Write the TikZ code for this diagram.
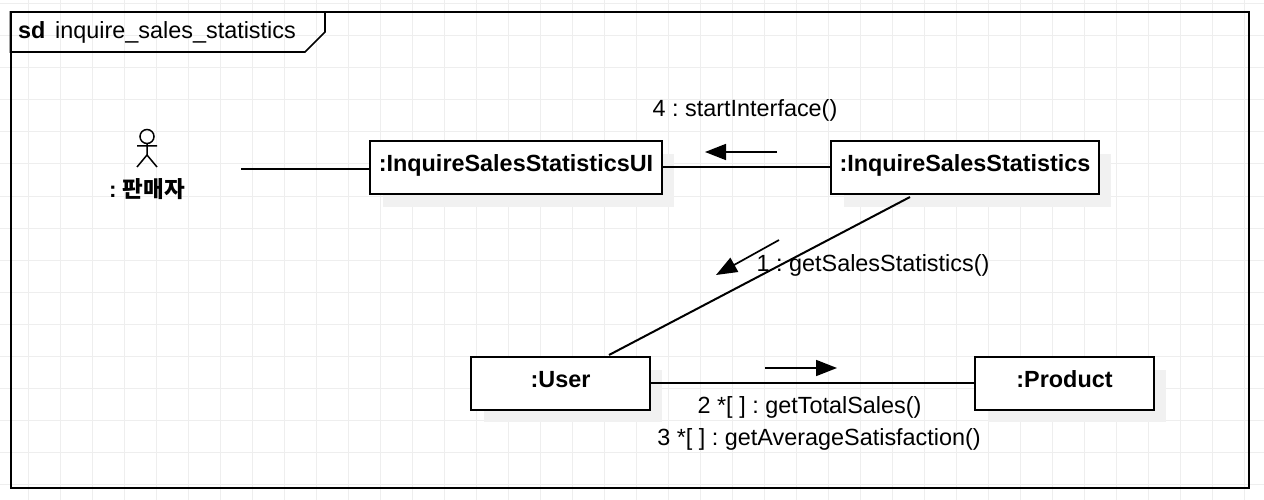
\documentclass[tikz,border=0pt]{standalone}
\usepackage{fontspec}
\setmainfont{Liberation Sans}
\newfontfamily\krfont{Noto Sans CJK KR Bold}
\usetikzlibrary{calc,arrows.meta}
\definecolor{gridc}{HTML}{EEEEEE}
\definecolor{shadowc}{HTML}{F1F1F1}
\tikzset{
  x=1pt,y=-1pt,
  objbox/.style={draw=black,fill=white,line width=2pt,inner sep=0pt},
  boxtext/.style={inner sep=0pt,anchor=base,font=\fontsize{23.4}{26}\selectfont\bfseries},
  msg/.style={font=\fontsize{23.4}{26}\selectfont,inner sep=0pt,anchor=base},
  link/.style={line width=2pt,black},
  flow/.style={line width=1.7pt,-{Triangle[length=21pt,width=16pt]}},
}
\begin{document}
\begin{tikzpicture}
\frenchspacing
\useasboundingbox (0,0) rectangle (1264,500);
\fill[white] (0,0) rectangle (1264,500);
\foreach \xx in {28,60,...,1260} \draw[gridc,line width=1pt] (\xx,0) -- (\xx,500);
\foreach \yy in {4,36,...,500} \draw[gridc,line width=1pt] (0,\yy) -- (1264,\yy);
% frame
\draw[line width=2pt] (10.5,12) rectangle (1249,488);
\path[draw,line width=1.6pt] (10.5,12) -- (325,12) -- (325,32) -- (305,52) -- (10.5,52) -- cycle;
\node[inner sep=0pt,anchor=base west,font=\fontsize{23.4}{26}\selectfont\bfseries] (sdk) at (18,38.7) {sd};
\node[inner sep=0pt,anchor=base west,font=\fontsize{23.4}{26}\selectfont] (sdn) at (55,38.7) {inquire\_sales\_statistics};
% shadows
\fill[shadowc] (383,154) rectangle (674,207);
\fill[shadowc] (844,154) rectangle (1111,207);
\fill[shadowc] (484,370) rectangle (662,422);
\fill[shadowc] (988,370) rectangle (1166,422);
% boxes
\node[objbox,minimum width=292pt,minimum height=53pt] (ui) at (516,167.5) {};
\node[objbox,minimum width=267.5pt,minimum height=53pt] (is) at (964.75,167.5) {};
\node[objbox,minimum width=178.5pt,minimum height=53pt] (user) at (560.25,383.5) {};
\node[objbox,minimum width=178.5pt,minimum height=53pt] (prod) at (1064.25,383.5) {};
\node[boxtext] (uit) at (516,171.7) {:InquireSalesStatisticsUI};
\node[boxtext] (ist) at (965,171.7) {:InquireSalesStatistics};
\node[boxtext] (usert) at (560.5,387) {:User};
\node[boxtext] (prodt) at (1064.5,387) {:Product};
% actor
\node[circle,draw,line width=1.5pt,minimum size=14pt,inner sep=0pt] (head) at (147,136.5) {};
\coordinate (hip) at (147,155);
\draw[line width=1.5pt] (head.south) -- (hip) (137,146) -- (157,146) (hip) -- (137,167) (hip) -- (157,167);
\node[inner sep=0pt,anchor=base,font=\fontsize{22.5}{26}\selectfont\bfseries] (actor) at (147,197.5) {: {\krfont 판매자}};
\coordinate (actorend) at (241,168.7);
% links
\draw[link] (actorend) -- (ui.west |- actorend);
\draw[link] (ui.east |- 0,167) -- (is.west |- 0,167);
\draw[link] ($(is.south west)+(80,2)$) -- ($(user.north west)+(139,-1)$);
\draw[link] (user.east |- 0,382.5) -- (prod.west |- 0,382.5);
% message arrows
\coordinate (m4s) at (777,152); \coordinate (m4e) at (705,152);
\coordinate (m1s) at (779,240); \coordinate (m1e) at (716,275);
\coordinate (m2s) at (765,368); \coordinate (m2e) at (837,368);
\draw[flow] (m4s) -- (m4e);
\draw[flow] (m1s) -- (m1e);
\draw[flow] (m2s) -- (m2e);
% labels
\node[msg] (l4) at (745,116.7) {4 : startInterface()};
\node[msg] (l1) at (873,271.5) {1 : getSalesStatistics()};
\node[msg] (l2) at (809.5,413) {2 *[ ] : getTotalSales()};
\node[msg] (l3) at (819,445) {3 *[ ] : getAverageSatisfaction()};
\end{tikzpicture}
\end{document}
